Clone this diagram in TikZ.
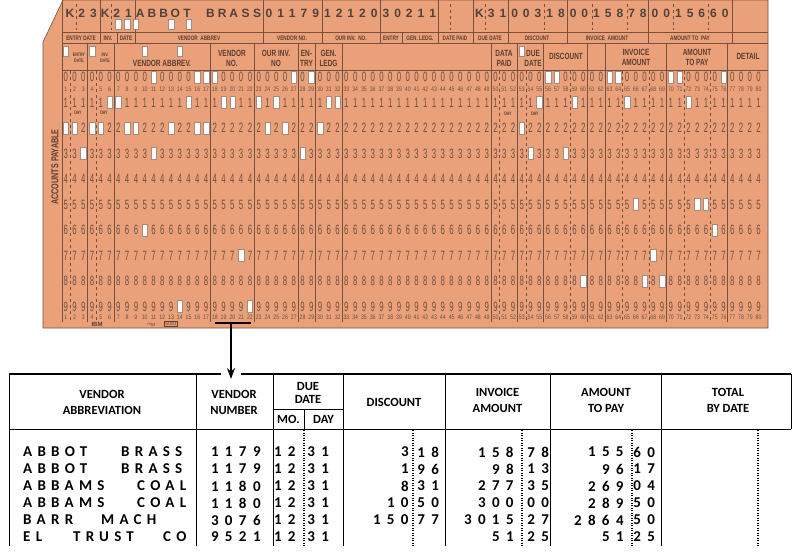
\documentclass[tikz,border=0pt]{standalone}
\usepackage{fontspec}
\usetikzlibrary{arrows.meta}
\newfontfamily\carddigit[FakeStretch=0.58]{Liberation Sans}
\newfontfamily\cardsmall[FakeStretch=0.8]{Liberation Sans}
\newfontfamily\cardhead[FakeStretch=0.72]{Liberation Sans}
\newfontfamily\cardprint{Liberation Sans}
\newfontfamily\tabfont{Carlito}
\newfontfamily\tabspaced[LetterSpace=35]{Carlito}
\definecolor{cardfill}{RGB}{234,160,120}
\definecolor{cardline}{RGB}{120,80,62}
\definecolor{cardink}{RGB}{110,82,70}
\definecolor{cardheadink}{RGB}{92,62,50}
\definecolor{printink}{RGB}{80,66,62}
\definecolor{holeedge}{RGB}{165,140,128}
\def\slotrun#1{\expandafter\slotstep#1\relax}
\def\slotstep#1{\ifx#1\relax\else\makebox[14pt]{#1}\expandafter\slotstep\fi}
\tikzset{
  digit/.style={font=\carddigit\fontsize{13.5}{13.5}\selectfont, text=cardink, inner sep=0pt},
  colnum/.style={font=\cardsmall\fontsize{6.5}{6.5}\selectfont, text=cardink, inner sep=0pt},
  hole/.style={fill=white, draw=holeedge, line width=0.4pt},
  fieldline/.style={draw=cardline, line width=0.9pt},
  fielddash/.style={draw=cardline, line width=0.9pt, dash pattern=on 3pt off 3pt},
  bandlabel/.style={font=\cardhead\bfseries\fontsize{6.5}{6.5}\selectfont, text=cardheadink, inner sep=0pt},
  fieldlabel/.style={font=\cardhead\bfseries\fontsize{9}{10}\selectfont, text=cardheadink, inner sep=0pt, align=center},
  tinylabel/.style={font=\cardhead\bfseries\fontsize{5}{6}\selectfont, text=cardheadink, inner sep=0pt, align=center},
  printch/.style={font=\cardprint\bfseries\fontsize{12}{12}\selectfont, text=printink, inner sep=0pt},
  colhead/.style={font=\tabfont\bfseries\fontsize{12.5}{16}\selectfont, inner sep=0pt, align=center},
  entry/.style={font=\tabfont\bfseries\fontsize{15}{15}\selectfont, inner sep=0pt},
  nameword/.style={font=\tabspaced\bfseries\fontsize{15}{15}\selectfont, inner sep=0pt, anchor=west},
  rule/.style={line width=1pt},
  dotrule/.style={line width=1.2pt, dash pattern=on 1pt off 1.5pt}
}
\begin{document}
\begin{tikzpicture}[x=1pt,y=-1pt]
\useasboundingbox (0,0) rectangle (800,556);
\fill[cardfill,draw=cardline,line width=0.6pt] (63,0) -- (768,0) -- (768,328) -- (43,328) -- (43,42) -- cycle;
\draw[fieldline] (62,32) -- (768,32);
\draw[fieldline] (62,43) -- (768,43);
\draw[fieldline] (62,70) -- (768,70);
\draw[fieldline] (62,0) -- (62,322);
\foreach \x in {100,135,263,322,380,438,473,508,567,648,732}
  \draw[fieldline] (\x,0) -- (\x,43);
\foreach \x in {117,402}
  \draw[fieldline] (\x,32) -- (\x,43);
\foreach \x in {76,111,450,485,544,592,627,673,708}
  \draw[fielddash] (\x,4) -- (\x,30);
\foreach \k in {3,6,17,22,27,29,32,49,52,55,60,62,69,76}
  \draw[fieldline] ({61.4+8.77*\k},43) -- ({61.4+8.77*\k},322);
\foreach \k in {1,4,50,53,58,64,67,71,74}
  \draw[fielddash] ({61.4+8.77*\k},71) -- ({61.4+8.77*\k},322);
\foreach \i/\ch in {0/K,1/2,2/3,3/K,4/2,5/1,6/A,7/B,8/B,9/O,10/T,12/B,13/R,14/A,15/S,16/S,17/0,18/1,19/1,20/7,21/9,22/1,23/2,24/1,25/2,26/0,27/3,28/0,29/2,30/1,31/1,35/K,36/3,37/1,38/0,39/0,40/3,41/1,42/8,43/0,44/0,45/1,46/5,47/8,48/7,49/8,50/0,51/0,52/1,53/5,54/6,55/6,56/0}
  \node[printch] (pr\i) at ({70+11.7*\i},13) {\ch};
\node[bandlabel] (bEntry) at (81,38) {ENTRY DATE};
\node[bandlabel] (bInv) at (108,38) {INV.};
\node[bandlabel] (bInvDate) at (126,38) {DATE};
\node[bandlabel] (bAbbrev) at (199,38) {VENDOR\ \ ABBREV};
\node[bandlabel] (bVendNo) at (292,38) {VENDOR NO.};
\node[bandlabel] (bOurInv) at (351,38) {OUR INV.\ \ NO.};
\node[bandlabel] (bEntry2) at (391,38) {ENTRY};
\node[bandlabel] (bLedg) at (420,38) {GEN. LEDG.};
\node[bandlabel] (bPaid) at (455,38) {DATE PAID};
\node[bandlabel] (bDue) at (490,38) {DUE DATE};
\node[bandlabel] (bDisc) at (537,38) {DISCOUNT};
\node[bandlabel] (bInvAmt) at (607,38) {INVOICE\ \ AMOUNT};
\node[bandlabel] (bPay) at (690,38) {AMOUNT TO\ \ PAY};
\node[tinylabel] (fEntry) at (79,57.5) {ENTRY\\DATE};
\node[tinylabel] (fInv) at (105,57.5) {INV.\\DATE};
\node[fieldlabel] (fAbbrev) at (162,63) {VENDOR ABBREV.};
\node[fieldlabel] (fVendNo) at (232,58) {VENDOR\\NO.};
\node[fieldlabel] (fOurInv) at (276,58) {OUR INV.\\NO};
\node[fieldlabel] (fEntry) at (306.5,58) {EN-\\TRY};
\node[fieldlabel] (fLedg) at (328.5,58) {GEN.\\LEDG};
\node[fieldlabel] (fPaid) at (504,58) {DATA\\PAID};
\node[fieldlabel] (fDue) at (533,58) {DUE\\DATE};
\node[fieldlabel] (fDisc) at (566,56) {DISCOUNT};
\node[fieldlabel] (fInvAmt) at (636,57) {INVOICE\\AMOUNT};
\node[fieldlabel] (fPay) at (697,57) {AMOUNT\\TO PAY};
\node[fieldlabel] (fDetail) at (748,56) {DETAIL};
\foreach \c in {1,...,80} {
  \foreach \r in {0,...,9}
    \node[digit] (d\c-\r) at ({57+8.77*\c},{77+25.5*\r}) {\r};
  \node[colnum] (ta\c) at ({57+8.77*\c},89) {\c};
  \node[colnum] (tb\c) at ({57+8.77*\c},317) {\c};
}
\foreach \c in {7,8,9,13,15}
  \draw[hole] ({57+8.77*\c-2.7},19) rectangle ({57+8.77*\c+2.7},29);
\foreach \c in {1,4,10,14,53}
  \draw[hole] ({57+8.77*\c-2.7},46.5) rectangle ({57+8.77*\c+2.7},56.5);
\foreach \c/\r in {1/2,2/2,3/3,4/2,5/2,6/1,7/1,8/2,9/2,10/6,11/0,11/3,13/2,14/9,15/1,16/0,16/2,17/0,17/2,18/0,19/1,20/1,21/7,22/9,23/1,24/2,25/1,26/2,27/0,28/3,29/0,30/2,31/1,32/1,53/2,54/3,55/1,56/0,57/0,58/3,59/1,60/8,63/0,64/0,65/1,66/5,67/8,68/7,69/8,70/0,71/0,72/1,73/5,74/5,75/6,76/0}
  \draw[hole] ({57+8.77*\c-2.7},{77+25.5*\r-6}) rectangle ({57+8.77*\c+2.7},{77+25.5*\r+6});
\node[tinylabel] (day1) at (78,113) {DAY};
\node[tinylabel] (day2) at (104,113) {DAY};
\node[tinylabel] (day3) at (508,114) {DAY};
\node[tinylabel] (day4) at (535,114) {DAY};
\node[font=\cardhead\bfseries\fontsize{10}{10}\selectfont, text=cardheadink, inner sep=0pt, rotate=90] (cardtitle) at (55,167) {ACCOUNTS PAYABLE};
\node[font=\cardprint\bfseries\fontsize{6}{6}\selectfont, text=cardheadink, inner sep=0pt] (maker) at (97,324.5) {IBM};
\node[font=\cardprint\fontsize{4.5}{4.5}\selectfont, text=cardheadink, inner sep=0pt] (mark) at (151,324.5) {™M};
\node[draw=cardheadink, line width=0.4pt, inner sep=0.8pt, font=\cardprint\fontsize{5}{5}\selectfont, text=cardheadink] (formno) at (171,324) {5081};
\coordinate (punchmark) at (231,323);
\coordinate (vendorhead) at (231,379);
\draw[line width=1.5pt] (215,323) -- (251,323);
\draw[line width=1.2pt, -{Stealth[length=11pt,width=8pt]}] (punchmark) -- (vendorhead);
\draw[line width=1.6pt] (9,374) -- (221,374);
\draw[line width=1.6pt] (241,374) -- (791,374);
\foreach \x in {9,196,273,343,445,550,661,791}
  \draw[rule] (\x,374) -- (\x,429);
\draw[rule] (9,429) -- (791,429);
\draw[rule] (273,409) -- (343,409);
\draw[rule] (304,409) -- (304,429);
\foreach \x in {9,196,273,343,445,550,661}
  \draw[rule] (\x,429) -- (\x,546);
\foreach \x in {304,413,522,632,758}
  \draw[dotrule] (\x,430) -- (\x,546);
\node[colhead] (hAbbrev) at (102,402) {VENDOR\\ABBREVIATION};
\node[colhead] (hNumber) at (234,402) {VENDOR\\NUMBER};
\node[colhead] (hDue) at (308,392.5) {DUE\\[-3pt]DATE};
\node[colhead] (hMo) at (288.5,419.5) {MO.};
\node[colhead] (hDay) at (323.5,419.5) {DAY};
\node[colhead] (hDisc) at (394,402) {DISCOUNT};
\node[colhead] (hInv) at (497.5,400) {INVOICE\\AMOUNT};
\node[colhead] (hPay) at (606,400) {AMOUNT\\TO PAY};
\node[colhead] (hTotal) at (728,400) {TOTAL\\BY DATE};
\node[nameword] (nA1) at (23,452) {ABBOT};
\node[nameword] (nB1) at (121,452) {BRASS};
\node[nameword] (nA2) at (23,469) {ABBOT};
\node[nameword] (nB2) at (121,469) {BRASS};
\node[nameword] (nA3) at (23,486) {ABBAMS};
\node[nameword] (nB3) at (137,486) {COAL};
\node[nameword] (nA4) at (23,503) {ABBAMS};
\node[nameword] (nB4) at (137,503) {COAL};
\node[nameword] (nA5) at (23,520) {BARR};
\node[nameword] (nB5) at (101,520) {MACH};
\node[nameword] (nA6) at (23,537) {EL};
\node[nameword] (nM6) at (73,537) {TRUST};
\node[nameword] (nB6) at (163,537) {CO};
\foreach \y/\ven/\dis/\disf/\inv/\invf/\pay/\payf in {452/1179/3/18/158/78/155/60,469/1179/1/96/98/13/96/17,486/1180/8/31/277/35/269/04,503/1180/10/50/300/00/289/50,520/3076/150/77/3015/27/2864/50,537/9521/{}/{}/51/25/51/25} {
  \node[entry, anchor=east] (ven\y) at (264,\y) {\slotrun{\ven}};
  \node[entry, anchor=east] (mo\y) at (299,\y) {\slotrun{12}};
  \node[entry, anchor=west] (dy\y) at (304,\y) {\slotrun{31}};
  \node[entry, anchor=east] (dis\y) at (412,\y) {\slotrun{\dis}};
  \node[entry, anchor=west] (disf\y) at (414,\y) {\slotrun{\disf}};
  \node[entry, anchor=east] (inv\y) at (517,\y) {\slotrun{\inv}};
  \node[entry, anchor=west] (invf\y) at (524,\y) {\slotrun{\invf}};
  \node[entry, anchor=east] (pay\y) at (627,\y) {\slotrun{\pay}};
  \node[entry, anchor=west] (payf\y) at (630,\y) {\slotrun{\payf}};
}
\end{tikzpicture}
\end{document}
